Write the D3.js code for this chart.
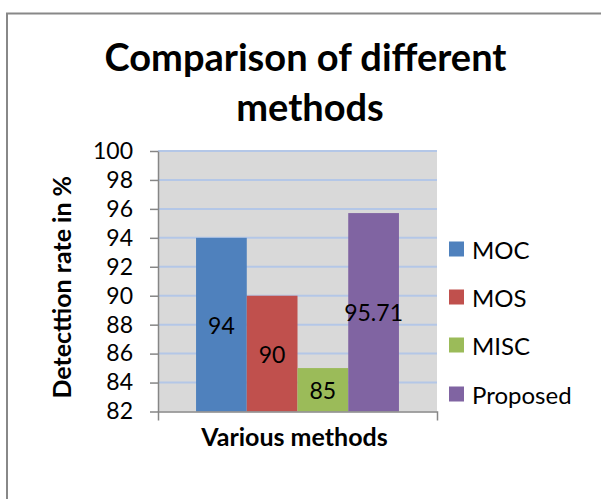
<!DOCTYPE html>
<html>
<head>
<meta charset="utf-8">
<script src="https://cdn.jsdelivr.net/npm/d3@7"></script>
<style>
  html, body { margin: 0; padding: 0; background: #fff; }
  svg { display: block; font-family: Lato, "Open Sans", sans-serif; }
</style>
</head>
<body>
<svg id="chart" width="601" height="499"></svg>
<script>
// ---- data ----
const categories = ["Various methods"];
const seriesNames = ["MOC", "MOS", "MISC", "Proposed"];
const seriesValues = [94, 90, 85, 95.71];
const seriesLabels = ["94", "90", "85", "95.71"];
const seriesColors = ["#4f81bd", "#c0504d", "#9bbb59", "#8064a2"];
const yTicks = [82, 84, 86, 88, 90, 92, 94, 96, 98, 100];
const titleLines = ["Comparison of different", "methods"];
const xTitle = "Various methods";
const yTitle = "Detecttion rate in %";

// ---- layout ----
const plot = { left: 158, right: 437, top: 151, bottom: 411.5 };
const svg = d3.select("#chart");

// outer chart border
svg.append("rect")
  .attr("x", 7).attr("y", 13.5)
  .attr("width", 700).attr("height", 600)
  .attr("fill", "none").attr("stroke", "#888").attr("stroke-width", 2);

// scales
const y = d3.scaleLinear().domain([82, 100]).range([plot.bottom, plot.top]);
const x0 = d3.scaleBand().domain(categories).range([plot.left, plot.right])
  .paddingInner(0).paddingOuter(0.1875);
const x1 = d3.scaleBand().domain(seriesNames).range([0, x0.bandwidth()]);

// plot background
svg.append("rect")
  .attr("x", plot.left).attr("y", plot.top)
  .attr("width", plot.right - plot.left).attr("height", plot.bottom - plot.top)
  .attr("fill", "#d9d9d9");

// gridlines
svg.append("g").selectAll("line")
  .data(yTicks.filter(d => d > 82))
  .join("line")
  .attr("x1", plot.left).attr("x2", plot.right)
  .attr("y1", d => y(d)).attr("y2", d => y(d))
  .attr("stroke", "#b4c7e7").attr("stroke-width", 2);

// bars
const group = svg.append("g");
categories.forEach(cat => {
  const g = group.append("g").attr("transform", `translate(${x0(cat)},0)`);
  g.selectAll("rect")
    .data(seriesNames.map((s, i) => ({ s, v: seriesValues[i], c: seriesColors[i], l: seriesLabels[i] })))
    .join("rect")
    .attr("x", d => x1(d.s))
    .attr("width", x1.bandwidth())
    .attr("y", d => y(d.v))
    .attr("height", d => y(82) - y(d.v))
    .attr("fill", d => d.c);
  g.selectAll("text")
    .data(seriesNames.map((s, i) => ({ s, v: seriesValues[i], l: seriesLabels[i] })))
    .join("text")
    .attr("x", d => x1(d.s) + x1.bandwidth() / 2)
    .attr("y", d => (y(d.v) + y(82)) / 2)
    .attr("text-anchor", "middle")
    .attr("dominant-baseline", "central")
    .attr("font-size", 23)
    .attr("fill", "#000")
    .text(d => d.l);
});

// y axis
const yAxis = svg.append("g")
  .attr("transform", `translate(${plot.left},0)`)
  .call(d3.axisLeft(y).tickValues(yTicks).tickSize(8).tickSizeOuter(0).tickPadding(17).tickFormat(d3.format("d")));
yAxis.select(".domain").attr("stroke", "#868686").attr("stroke-width", 1.5);
yAxis.selectAll(".tick line").attr("stroke", "#868686").attr("stroke-width", 1.5);
yAxis.selectAll(".tick text").attr("font-size", 23).attr("font-family", "Lato").attr("fill", "#000");

// x axis (category axis with outer ticks)
const xAxis = svg.append("g")
  .attr("transform", `translate(0,${plot.bottom})`)
  .call(d3.axisBottom(x0).tickValues([]).tickSizeOuter(9));
xAxis.select(".domain").attr("stroke", "#868686").attr("stroke-width", 1.5);

// title
svg.append("g").selectAll("text")
  .data(titleLines)
  .join("text")
  .attr("x", (d, i) => i === 0 ? 305.5 : 310)
  .attr("y", (d, i) => i === 0 ? 71 : 121)
  .attr("text-anchor", "middle")
  .attr("font-size", 38)
  .attr("font-weight", "bold")
  .attr("fill", "#000")
  .text(d => d);

// axis titles
svg.append("text")
  .attr("x", (plot.left + plot.right) / 2 - 3)
  .attr("y", 446)
  .attr("text-anchor", "middle")
  .attr("font-size", 25)
  .attr("font-weight", "bold")
  .text(xTitle);

svg.append("text")
  .attr("transform", `translate(71,${(plot.top + plot.bottom) / 2 + 6}) rotate(-90)`)
  .attr("text-anchor", "middle")
  .attr("font-size", 25)
  .attr("font-weight", "bold")
  .text(yTitle);

// legend
const legendY = [249, 297, 345, 394];
const legend = svg.append("g").selectAll("g")
  .data(seriesNames)
  .join("g")
  .attr("transform", (d, i) => `translate(449,${legendY[i]})`);
legend.append("rect")
  .attr("x", 0).attr("y", -7.5).attr("width", 15).attr("height", 15)
  .attr("fill", (d, i) => seriesColors[i]);
legend.append("text")
  .attr("x", 23).attr("y", 0)
  .attr("dominant-baseline", "central")
  .attr("font-size", 24)
  .attr("fill", "#000")
  .text(d => d);
</script>
</body>
</html>
